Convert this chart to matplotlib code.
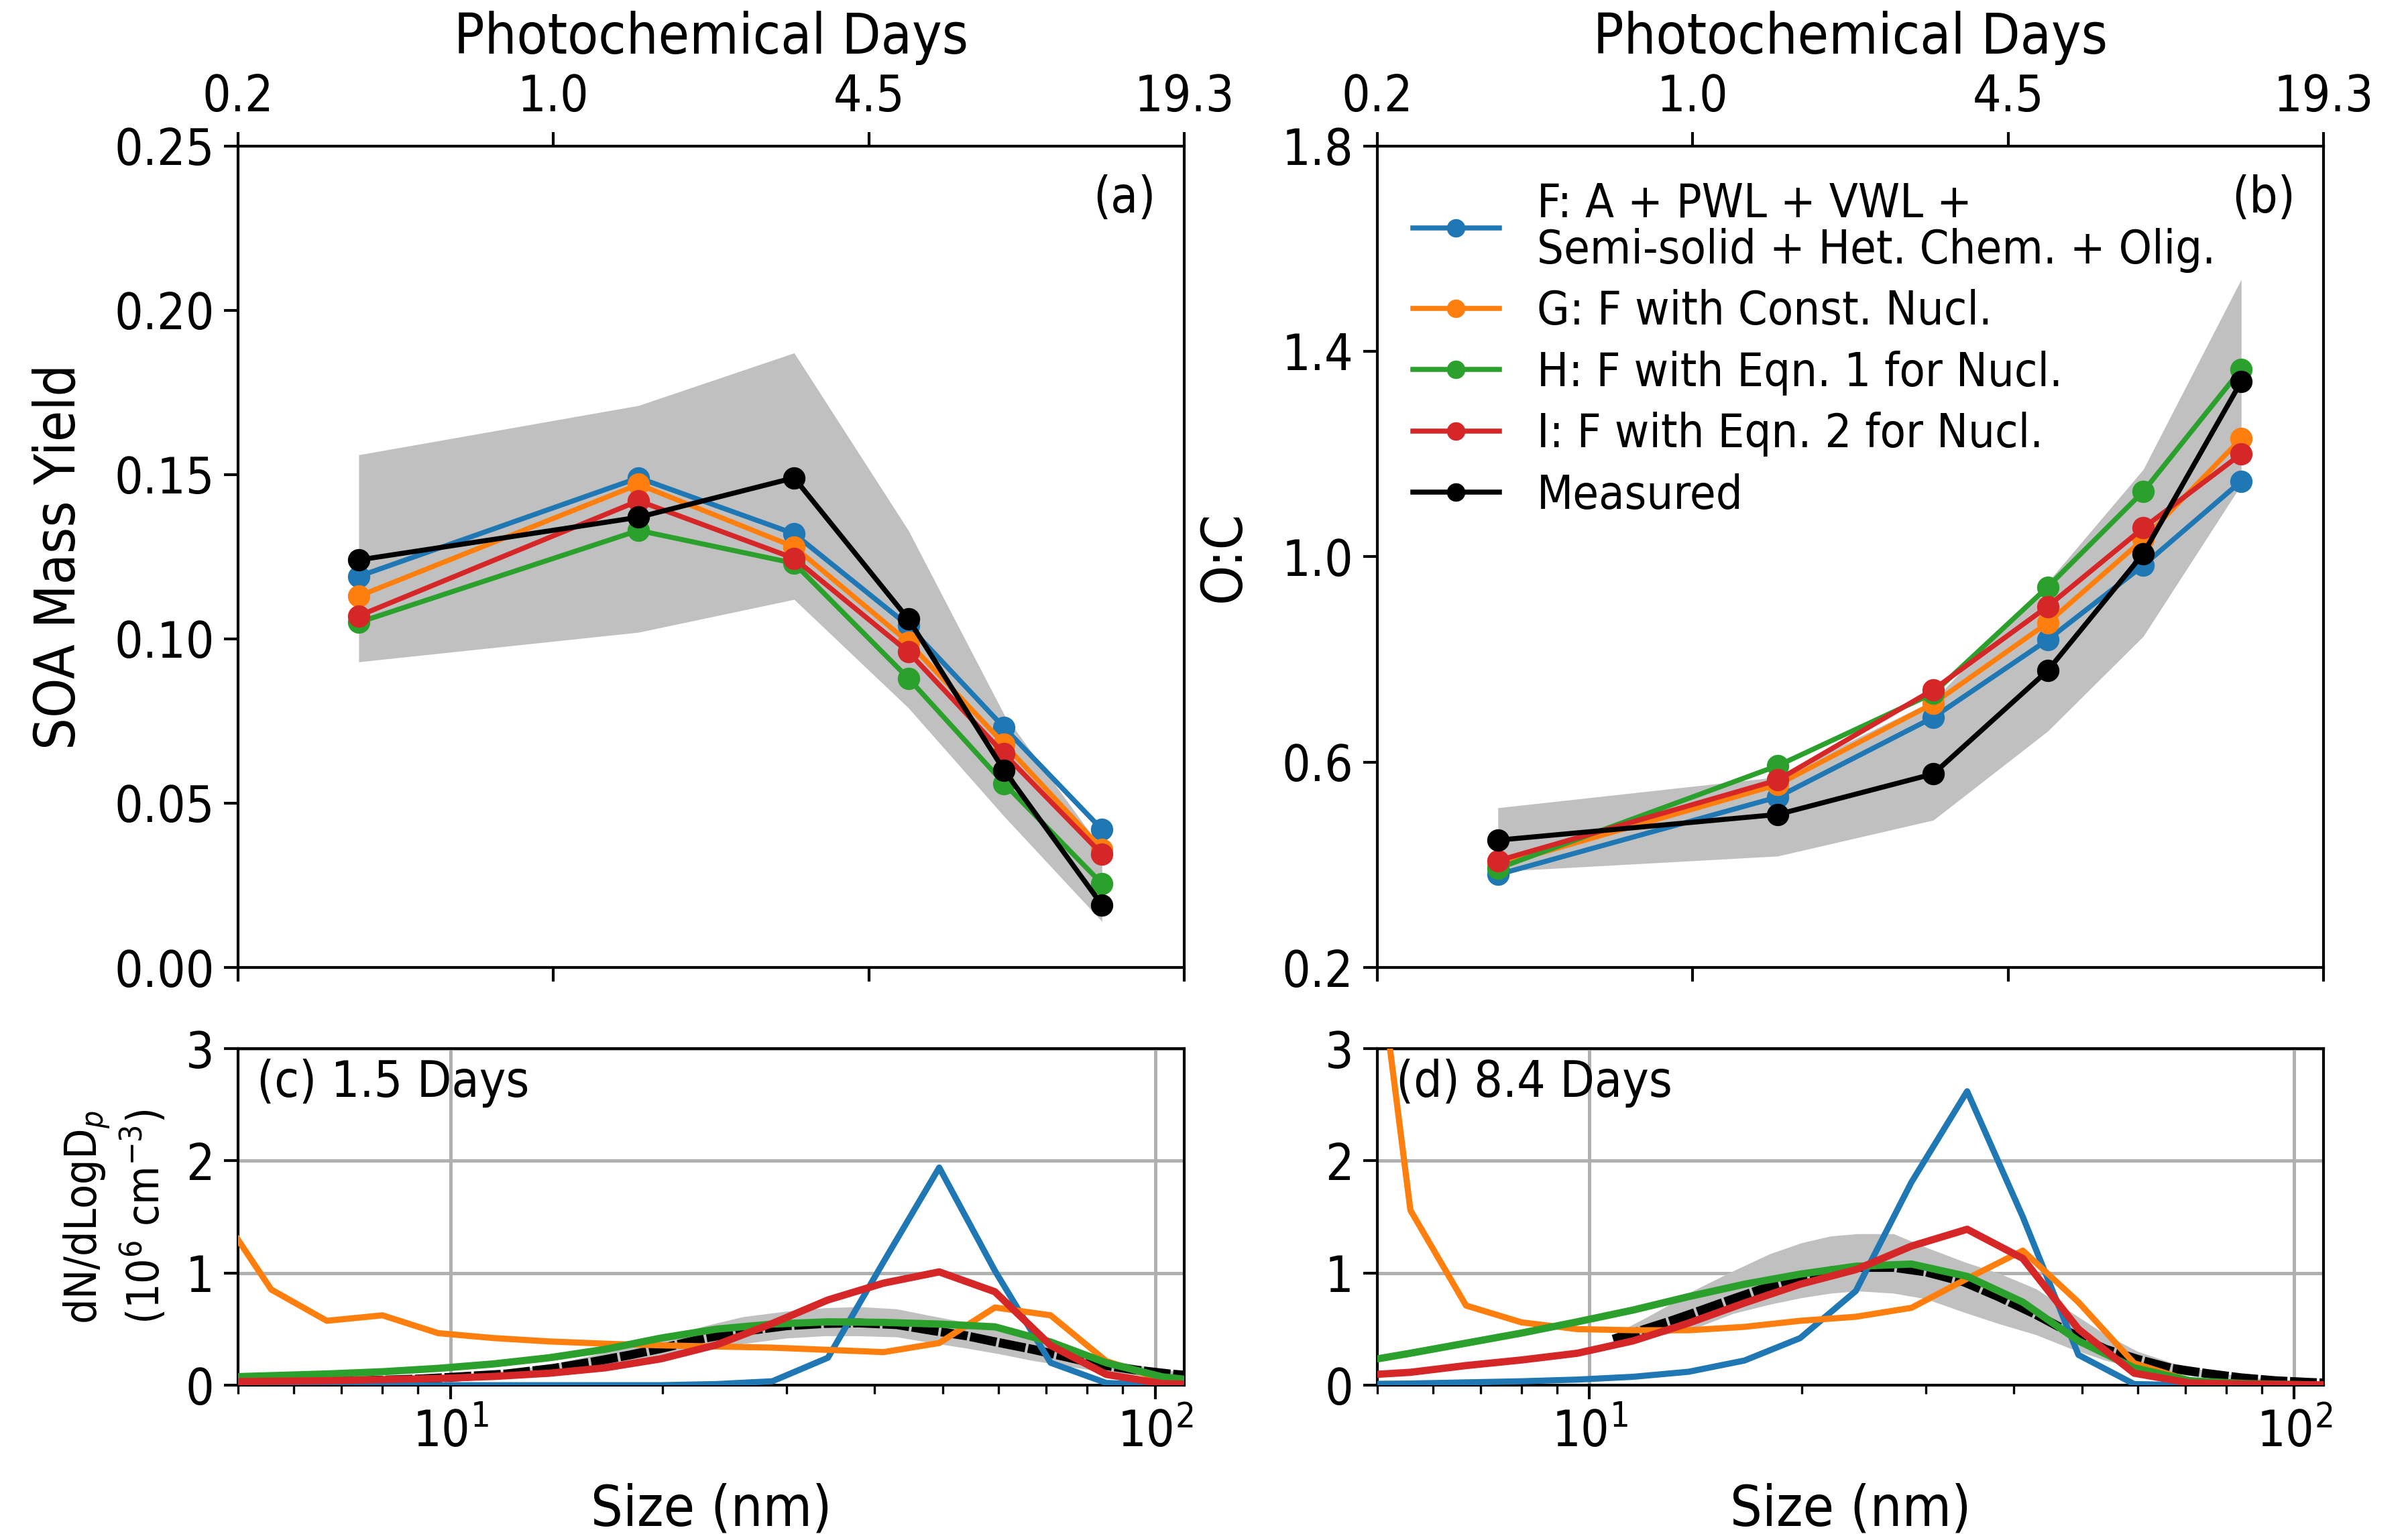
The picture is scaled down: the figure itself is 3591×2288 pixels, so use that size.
import numpy as np
import matplotlib
matplotlib.use("Agg")
import matplotlib.pyplot as plt
from matplotlib import font_manager
from matplotlib.ticker import FixedLocator, NullLocator, NullFormatter, FormatStrFormatter

plt.rcParams['font.family'] = ['DejaVu Sans']
plt.rcParams['axes.linewidth'] = 1.0

# use the condensed cut of DejaVu Sans when the system provides it
_condensed = any('condensed' in str(f.stretch).lower() or 'Condensed' in f.name
                 for f in font_manager.fontManager.ttflist if f.name.startswith('DejaVu Sans'))
if _condensed:
    plt.rcParams['font.stretch'] = 'condensed'
SCALE = 1.12 if _condensed else 1.0

# ---------------------------------------------------------------- data
# photochemical age of each sample (days, OH-equivalent)
photo_days = [0.37, 1.5, 3.15, 5.4, 8.4, 13.2]
day_ticks = [0.2, 1.0, 4.5, 19.3]
day_ticklabels = ['0.2', '1.0', '4.5', '19.3']

series_labels = ['F: A + PWL + VWL +\nSemi-solid + Het. Chem. + Olig.',
                 'G: F with Const. Nucl.',
                 'H: F with Eqn. 1 for Nucl.',
                 'I: F with Eqn. 2 for Nucl.',
                 'Measured']
series_colors = ['#1f77b4', '#ff7f0e', '#2ca02c', '#d62728', 'black']

# SOA mass yield
yield_F = [0.119, 0.149, 0.132, 0.104, 0.073, 0.042]
yield_G = [0.113, 0.147, 0.128, 0.099, 0.068, 0.036]
yield_H = [0.105, 0.133, 0.123, 0.088, 0.056, 0.0255]
yield_I = [0.107, 0.142, 0.1245, 0.096, 0.065, 0.0345]
yield_meas = [0.124, 0.137, 0.149, 0.106, 0.060, 0.019]
yield_meas_low = [0.093, 0.102, 0.112, 0.079, 0.046, 0.014]
yield_meas_high = [0.156, 0.171, 0.187, 0.133, 0.077, 0.036]

# O:C ratio
oc_F = [0.381, 0.532, 0.687, 0.838, 0.983, 1.147]
oc_G = [0.399, 0.556, 0.714, 0.871, 1.034, 1.230]
oc_H = [0.393, 0.593, 0.734, 0.941, 1.127, 1.365]
oc_I = [0.408, 0.565, 0.741, 0.903, 1.056, 1.200]
oc_meas = [0.448, 0.498, 0.577, 0.778, 1.006, 1.341]
oc_meas_low = [0.387, 0.417, 0.487, 0.660, 0.845, 1.140]
oc_meas_high = [0.511, 0.571, 0.720, 0.950, 1.170, 1.540]

# model size bins (nm)
model_dp = [4.64, 5.57, 6.68, 8.01, 9.61, 11.53, 13.83, 16.59, 19.90, 23.87,
            28.63, 34.34, 41.19, 49.40, 59.26, 71.08, 85.26, 102.3, 122.7]

# number size distributions at 1.5 days (1e6 cm^-3)
dist15_F = [0.0, 0.0, 0.0, 0.0, 0.0, 0.0, 0.0, 0.0, 0.0, 0.01,
            0.035, 0.245, 1.10, 1.94, 1.02, 0.20, 0.02, 0.0, 0.0]
dist15_G = [1.60, 0.853, 0.574, 0.623, 0.464, 0.42, 0.39, 0.37, 0.355, 0.345,
            0.335, 0.315, 0.295, 0.376, 0.693, 0.623, 0.215, 0.05, 0.01]
dist15_H = [0.07, 0.085, 0.10, 0.12, 0.15, 0.19, 0.245, 0.32, 0.42, 0.50,
            0.545, 0.565, 0.56, 0.545, 0.52, 0.385, 0.20, 0.075, 0.02]
dist15_I = [0.03, 0.035, 0.04, 0.05, 0.06, 0.078, 0.107, 0.155, 0.235, 0.36,
            0.55, 0.76, 0.91, 1.01, 0.833, 0.355, 0.096, 0.015, 0.0]

# number size distributions at 8.4 days (1e6 cm^-3)
dist84_F = [0.01, 0.015, 0.025, 0.035, 0.05, 0.075, 0.12, 0.22, 0.42, 0.84,
            1.81, 2.62, 1.50, 0.27, 0.01, 0.0, 0.0, 0.0, 0.0]
dist84_G = [5.5, 1.56, 0.71, 0.56, 0.50, 0.49, 0.49, 0.52, 0.574, 0.61,
            0.69, 0.95, 1.20, 0.74, 0.196, 0.04, 0.01, 0.005, 0.0]
dist84_H = [0.20, 0.285, 0.375, 0.465, 0.565, 0.67, 0.79, 0.90, 0.99, 1.06,
            1.08, 0.97, 0.74, 0.395, 0.155, 0.04, 0.015, 0.005, 0.0]
dist84_I = [0.085, 0.115, 0.175, 0.225, 0.285, 0.395, 0.554, 0.733, 0.90, 1.03,
            1.24, 1.39, 1.13, 0.50, 0.107, 0.02, 0.01, 0.005, 0.0]

# measured SMPS distributions (mean and spread)
meas15_dp = [5, 6, 7, 8, 9, 10, 12, 14, 16, 18, 20, 23, 26, 30, 34, 38, 43,
             48, 54, 60, 67, 75, 84, 94, 105, 110]
meas15 = [0.02, 0.03, 0.035, 0.045, 0.055, 0.07, 0.10, 0.15, 0.21, 0.27, 0.33,
          0.42, 0.48, 0.53, 0.55, 0.555, 0.54, 0.49, 0.44, 0.38, 0.32, 0.25,
          0.18, 0.135, 0.10, 0.09]
meas15_low = [0.01, 0.02, 0.025, 0.03, 0.04, 0.05, 0.07, 0.11, 0.15, 0.20, 0.25,
              0.32, 0.37, 0.42, 0.44, 0.44, 0.43, 0.38, 0.33, 0.28, 0.22, 0.17,
              0.12, 0.09, 0.07, 0.065]
meas15_high = [0.03, 0.04, 0.045, 0.06, 0.07, 0.09, 0.13, 0.19, 0.27, 0.35, 0.42,
               0.53, 0.61, 0.66, 0.69, 0.70, 0.68, 0.62, 0.56, 0.48, 0.41, 0.33,
               0.24, 0.18, 0.13, 0.115]

meas84_dp = [10.8, 12, 13, 14, 16, 18, 20, 22, 24, 27, 30, 34, 38, 43, 48, 54,
             60, 67, 75, 84, 94, 105, 110]
meas84 = [0.41, 0.50, 0.57, 0.64, 0.77, 0.88, 0.96, 1.02, 1.05, 1.05, 1.01, 0.92,
          0.79, 0.63, 0.47, 0.32, 0.23, 0.15, 0.105, 0.066, 0.04, 0.025, 0.02]
meas84_low = [0.37, 0.42, 0.46, 0.50, 0.64, 0.72, 0.78, 0.82, 0.84, 0.82, 0.77,
              0.65, 0.55, 0.45, 0.33, 0.22, 0.15, 0.10, 0.07, 0.045, 0.028, 0.018,
              0.013]
meas84_high = [0.45, 0.60, 0.72, 0.84, 1.02, 1.17, 1.27, 1.33, 1.35, 1.35, 1.23,
               1.10, 1.00, 0.86, 0.66, 0.45, 0.30, 0.20, 0.13, 0.08, 0.05, 0.03,
               0.025]

BAND = '#c0c0c0'
LABEL_FS = 18 * SCALE
TICK_FS = 16 * SCALE
LEGEND_FS = 15 * SCALE

# ---------------------------------------------------------------- figure
fig = plt.figure(figsize=(3591 / 300, 2288 / 300), dpi=300)
ax_a = fig.add_axes([0.0989, 0.3693, 0.3929, 0.5356])
ax_b = fig.add_axes([0.5720, 0.3693, 0.3929, 0.5356])
ax_c = fig.add_axes([0.0989, 0.0970, 0.3929, 0.2194])
ax_d = fig.add_axes([0.5720, 0.0970, 0.3929, 0.2194])

# photochemical-age axis: equal spacing between the labelled ages (log-interpolated)
_log_ticks = np.log10(day_ticks)
_tick_idx = np.arange(len(day_ticks), dtype=float)


def _age_fwd(d):
    d = np.clip(np.asarray(d, dtype=float), 1e-6, None)
    return np.interp(np.log10(d), _log_ticks, _tick_idx)


def _age_inv(u):
    return 10 ** np.interp(np.asarray(u, dtype=float), _tick_idx, _log_ticks)


def style_age_axis(ax):
    ax.set_xscale('function', functions=(_age_fwd, _age_inv))
    ax.set_xlim(day_ticks[0], day_ticks[-1])
    ax.xaxis.set_major_locator(FixedLocator(day_ticks))
    ax.xaxis.set_minor_locator(NullLocator())
    ax.set_xticklabels(day_ticklabels)
    ax.tick_params(axis='x', top=True, labeltop=True, bottom=True, labelbottom=False)
    ax.xaxis.set_label_position('top')
    ax.set_xlabel('Photochemical Days', fontsize=LABEL_FS, labelpad=7)
    ax.tick_params(labelsize=TICK_FS, length=5, width=1.0)


def plot_age_panel(ax, model_vals, meas, low, high):
    ax.fill_between(photo_days, low, high, color=BAND, lw=0, zorder=1)
    for vals, c, lab in zip(model_vals, series_colors[:4], series_labels[:4]):
        ax.plot(photo_days, vals, '-o', color=c, lw=1.8, ms=7, label=lab, zorder=3)
    ax.plot(photo_days, meas, '-o', color='black', lw=1.8, ms=7,
            label=series_labels[4], zorder=4)
    style_age_axis(ax)


plot_age_panel(ax_a, [yield_F, yield_G, yield_H, yield_I],
               yield_meas, yield_meas_low, yield_meas_high)
ax_a.set_ylim(0, 0.25)
ax_a.set_yticks(np.arange(0, 0.2501, 0.05))
ax_a.yaxis.set_major_formatter(FormatStrFormatter('%.2f'))
ax_a.set_ylabel('SOA Mass Yield', fontsize=LABEL_FS, labelpad=10)
ax_a.text(0.97, 0.965, '(a)', transform=ax_a.transAxes, ha='right', va='top',
          fontsize=TICK_FS)

plot_age_panel(ax_b, [oc_F, oc_G, oc_H, oc_I], oc_meas, oc_meas_low, oc_meas_high)
ax_b.set_ylim(0.2, 1.8)
ax_b.set_yticks([0.2, 0.6, 1.0, 1.4, 1.8])
ax_b.yaxis.set_major_formatter(FormatStrFormatter('%.1f'))
ax_b.set_ylabel('O:C', fontsize=LABEL_FS, labelpad=11)
ax_b.text(0.97, 0.965, '(b)', transform=ax_b.transAxes, ha='right', va='top',
          fontsize=TICK_FS)
leg = ax_b.legend(loc='upper left', frameon=False, fontsize=LEGEND_FS,
                  labelspacing=0.35, handlelength=1.85, handletextpad=0.8,
                  borderaxespad=0.35, markerscale=0.8)
for t in leg.get_texts():
    t.set_linespacing(1.05)


def plot_dist_panel(ax, model_vals, mdp, meas, low, high, title):
    ax.fill_between(mdp, low, high, color=BAND, lw=0, zorder=1)
    ax.plot(mdp, meas, color='black', lw=3.2, ls=(0, (3.0, 0.3)), zorder=2)
    widths = [2.2, 2.2, 2.6, 2.6]
    for vals, c, w in zip(model_vals, series_colors[:4], widths):
        ax.plot(model_dp, vals, color=c, lw=w, zorder=3)
    ax.set_xscale('log')
    ax.set_xlim(5, 110)
    ax.set_ylim(0, 3)
    ax.set_yticks([0, 1, 2, 3])
    ax.xaxis.set_minor_formatter(NullFormatter())
    ax.grid(True, which='major', color='#b0b0b0', lw=1.2, zorder=0)
    ax.set_axisbelow(True)
    ax.tick_params(which='major', labelsize=TICK_FS, length=5, width=1.0)
    ax.tick_params(which='minor', length=3, width=0.8)
    ax.set_xlabel('Size (nm)', fontsize=LABEL_FS, labelpad=9)
    ax.text(0.02, 0.97, title, transform=ax.transAxes, ha='left', va='top',
            fontsize=TICK_FS)


plot_dist_panel(ax_c, [dist15_F, dist15_G, dist15_H, dist15_I],
                meas15_dp, meas15, meas15_low, meas15_high, '(c) 1.5 Days')
ax_c.set_ylabel('dN/dLogD$_p$\n(10$^6$ cm$^{-3}$)', fontsize=15.8, labelpad=6)

plot_dist_panel(ax_d, [dist84_F, dist84_G, dist84_H, dist84_I],
                meas84_dp, meas84, meas84_low, meas84_high, '(d) 8.4 Days')

fig.savefig('out.png', dpi=300)
